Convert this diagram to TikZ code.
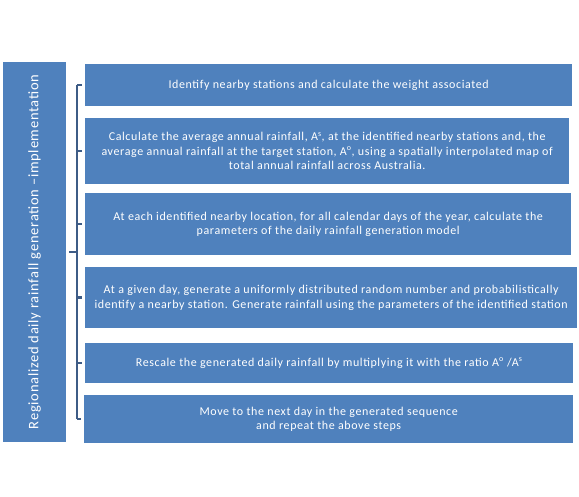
\documentclass[tikz,border=0pt]{standalone}
\usepackage{fontspec}
\setmainfont{Carlito}[LetterSpace=5]
\usetikzlibrary{calc,positioning}
\definecolor{boxblue}{RGB}{79,129,189}
\definecolor{linkblue}{RGB}{62,92,134}
\tikzset{
  stepbox/.style={fill=boxblue, text=white, align=center, anchor=north west,
    inner sep=0pt, font=\fontsize{12}{14.5}\selectfont},
  link/.style={draw=linkblue, line width=2.5pt},
}
\begin{document}
\begin{tikzpicture}[x=1pt,y=-1pt]
		\useasboundingbox (0,0) rectangle (579,497);
		% Left title box
		\node[fill=boxblue, text=white, rotate=90, inner sep=0pt,
		  minimum width=380pt, minimum height=63pt,
		  font=\fontsize{14.5}{16}\selectfont] (task) at (34.5,252)
		  {Regionalized daily rainfall generation –implementation};
		% Steps
		\node[stepbox, minimum width=487pt, minimum height=42pt] (s1) at (85,64)
		  {Identify nearby stations and calculate the weight associated};
		\node[stepbox, minimum width=484pt, minimum height=66pt] (s2) at (85,118)
		  {Calculate the average annual rainfall, A\textsuperscript{s}, at the identified nearby stations and, the\\
		   average annual rainfall at the target station, A\textsuperscript{o}, using a spatially interpolated map of\\
		   total annual rainfall across Australia.};
		\node[stepbox, minimum width=486pt, minimum height=62pt] (s3) at (85,193)
		  {At each identified nearby location, for all calendar days of the year, calculate the\\
		   parameters of the daily rainfall generation model};
		\node[stepbox, minimum width=492pt, minimum height=61pt] (s4) at (85,267)
		  {At a given day, generate a uniformly distributed random number and probabilistically\\
		   identify a nearby station. Generate rainfall using the parameters of the identified station};
		\node[stepbox, minimum width=488pt, minimum height=40pt] (s5) at (85,343)
		  {Rescale the generated daily rainfall by multiplying it with the ratio A\textsuperscript{o} /A\textsuperscript{s}};
		\node[stepbox, minimum width=489pt, minimum height=48pt] (s6) at (84,395)
		  {Move to the next day in the generated sequence\\
		   and repeat the above steps};
		% Bracket
		\coordinate (hub) at ($(task.south)+(3pt,0)$);
		\coordinate (spine) at ($(hub)+(8pt,0)$);
		\draw[link] (hub) -- (spine);
		\draw[link] (s1.west -| spine) -- (s6.west -| spine);
		\foreach \s in {s1,s2,s3,s4,s5,s6}
		  \draw[link] (\s.west -| spine) -- ($(\s.west)+(-3pt,0)$);
	\end{tikzpicture}
\end{document}
